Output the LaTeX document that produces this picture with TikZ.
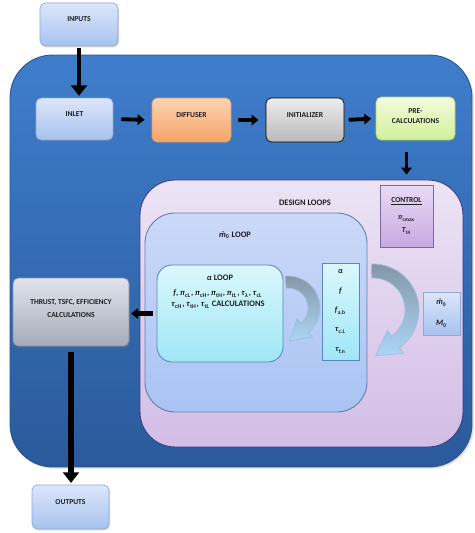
\documentclass[tikz,border=0pt]{standalone}
\usepackage{amsmath}
\usepackage{amssymb}
\usepackage{fontspec}
\setmainfont{Carlito}
\usepackage{tikz}
\usetikzlibrary{arrows.meta,positioning,calc,shapes,shadows}
\tikzset{>=Triangle}
\newcommand{\gsub}[2]{\textit{#1}\textsubscript{#2}}

\definecolor{txt}{HTML}{1E1E1E}
\definecolor{blueA}{HTML}{DCE6FB}
\definecolor{blueB}{HTML}{A7C2EE}
\definecolor{blueL}{HTML}{8EA9D8}
\definecolor{orangeA}{HTML}{FCD3B4}
\definecolor{orangeB}{HTML}{F5A466}
\definecolor{orangeL}{HTML}{E0A070}
\definecolor{greyA}{HTML}{EDEDED}
\definecolor{greyB}{HTML}{B9B9B9}
\definecolor{greenA}{HTML}{F4FCDD}
\definecolor{greenB}{HTML}{D0F09A}
\definecolor{greenL}{HTML}{B0D070}
\definecolor{thrustA}{HTML}{E1E4EC}
\definecolor{thrustB}{HTML}{A5ABBA}
\definecolor{thrustL}{HTML}{8A90A0}
\definecolor{engineA}{HTML}{3F7DCC}
\definecolor{engineB}{HTML}{2A5A9B}
\definecolor{engineL}{HTML}{2A5590}
\definecolor{designA}{HTML}{EDE3F5}
\definecolor{designB}{HTML}{D2BDE6}
\definecolor{designL}{HTML}{3F3F7F}
\definecolor{mloopA}{HTML}{CBD9F8}
\definecolor{mloopB}{HTML}{A9C3F3}
\definecolor{mloopL}{HTML}{5F7FB0}
\definecolor{aloopA}{HTML}{DAF8FC}
\definecolor{aloopB}{HTML}{9FE6F7}
\definecolor{aloopL}{HTML}{5A88B8}
\definecolor{ctrlA}{HTML}{E9DAF5}
\definecolor{ctrlB}{HTML}{C7A9E2}
\definecolor{ctrlL}{HTML}{7A6A98}
\definecolor{curveA}{HTML}{8496A6}
\definecolor{curveB}{HTML}{ABD6F6}
\definecolor{curveL}{HTML}{9EC0E0}

\tikzset{
  lbl/.style={font=\fontsize{4.3}{5.6}\selectfont\bfseries, text=txt},
  box/.style={lbl, draw, rounded corners=3pt, align=center, text depth=6pt, line width=0.4pt,
    drop shadow={shadow xshift=0.6pt, shadow yshift=-0.8pt, opacity=0.3}},
  bluebox/.style={box, draw=blueL, top color=blueA, bottom color=blueB},
  container/.style={draw, line width=0.5pt},
  blockarrow/.style={-{Triangle[length=6pt,width=9pt]}, line width=2.8pt, black},
  smallarrow/.style={-{Triangle[length=4pt,width=6pt]}, line width=2.2pt, black},
  curvedarrow/.style={draw=curveL, line width=0.4pt, top color=curveA, bottom color=curveB}
}

\begin{document}
\begin{tikzpicture}[x=0.02cm,y=-0.02cm]
\useasboundingbox (0,0) rectangle (474,533);

% engine block
\node [container, draw=engineL, top color=engineA, bottom color=engineB, rounded corners=0.85cm,
  minimum width=9.24cm, minimum height=8.24cm,
  drop shadow={shadow xshift=1pt, shadow yshift=-1pt, opacity=0.25}] (engine) at (241,261) {};

% top row
\node [bluebox, minimum width=1.56cm, minimum height=0.86cm] (inputs) at (79,24.5) {INPUTS};
\node [bluebox, minimum width=1.54cm, minimum height=0.84cm] (inlet) at (74.5,119) {INLET};
\node [box, draw=orangeL, top color=orangeA, bottom color=orangeB,
  minimum width=1.58cm, minimum height=0.88cm] (diffuser) at (191.5,120) {DIFFUSER};
\node [box, draw=black, top color=greyA, bottom color=greyB,
  minimum width=1.56cm, minimum height=0.88cm] (init) at (305,120) {INITIALIZER};
\node [box, draw=greenL, top color=greenA, bottom color=greenB, text depth=3pt,
  minimum width=1.58cm, minimum height=0.86cm] (precalc) at (415.5,118.5) {PRE-\\CALCULATIONS};

% design loops
\node [container, draw=designL, top color=designA, bottom color=designB, rounded corners=0.7cm,
  minimum width=6.46cm, minimum height=5.34cm] (design) at (301.5,313.5) {};
\node [container, draw=mloopL, top color=mloopA, bottom color=mloopB, rounded corners=0.6cm,
  minimum width=4.44cm, minimum height=3.98cm] (mloop) at (256,312.5) {};
\node [container, draw=aloopL, top color=aloopA, bottom color=aloopB, rounded corners=0.3cm,
  minimum width=2.52cm, minimum height=1.94cm] (aloop) at (220,313.5) {};
\node [lbl, font=\fontsize{4.8}{6}\selectfont\bfseries] (designtitle) at (305,203) {DESIGN LOOPS};
\node [lbl, font=\fontsize{4.8}{6}\selectfont\bfseries] (mtitle) at (235,235) {\gsub{ṁ}{0} LOOP};
\node [lbl, font=\fontsize{4.8}{6}\selectfont\bfseries] (atitle) at (220,278) {\textit{α} LOOP};
\node [lbl, align=center, font=\fontsize{4.8}{6.4}\selectfont\bfseries] (acalc) at (218,299)
  {\textit{f}, \gsub{π}{cL}, \gsub{π}{cH}, \gsub{π}{tH}, \gsub{π}{tL}, \gsub{τ}{λ}, \gsub{τ}{cL}\\
   \gsub{τ}{cH}, \gsub{τ}{tH}, \gsub{τ}{tL} CALCULATIONS};

\node [lbl, draw=aloopL, top color=aloopA, bottom color=aloopB, align=center,
  font=\fontsize{4.6}{11}\selectfont\bfseries, minimum width=0.74cm, minimum height=1.94cm] (params) at (340.5,311.5)
  {\textit{α}\\\textit{f}\\\gsub{f}{a.b}\\\gsub{τ}{c.L}\\\gsub{τ}{f.n}};
\node [lbl, draw=ctrlL, top color=ctrlA, bottom color=ctrlB, align=center,
  minimum width=1.06cm, minimum height=1.24cm] (control) at (406.5,216)
  {\underline{CONTROL}\\[4pt]\gsub{π}{cmax}\\[2pt]\gsub{T}{t4}};
\node [lbl, draw=blueL, top color=blueA, bottom color=blueB, align=center,
  font=\fontsize{4.6}{12}\selectfont\bfseries, minimum width=0.74cm, minimum height=0.86cm] (mzero) at (441.5,313.5)
  {\gsub{ṁ}{0}\\\gsub{M}{0}};

% curved arrows
\coordinate (c1) at (288,308);
\path [curvedarrow] ($(c1)+(-95:32)$) arc[start angle=-95, end angle=50, radius=32]
  -- ($(c1)+(50:38)$) -- ($(c1)+(50:26)+(140:20)$) -- ($(c1)+(50:14)$)
  -- ($(c1)+(50:20)$) arc[start angle=50, end angle=-95, radius=20] -- cycle;
\coordinate (c2) at (373,310);
\path [curvedarrow] ($(c2)+(-92:46)$) arc[start angle=-92, end angle=55, radius=46]
  -- ($(c2)+(55:53)$) -- ($(c2)+(55:39)+(145:24)$) -- ($(c2)+(55:25)$)
  -- ($(c2)+(55:32)$) arc[start angle=55, end angle=-92, radius=32] -- cycle;

% results
\node [box, draw=thrustL, top color=thrustA, bottom color=thrustB, text depth=4pt,
  minimum width=2.32cm, minimum height=1.36cm] (thrust) at (71,312) {THRUST, TSFC, EFFICIENCY\\[2pt]CALCULATIONS};
\node [bluebox, minimum width=1.54cm, minimum height=0.88cm] (outputs) at (70.5,507) {OUTPUTS};

\begin{scope}[shorten >= 1pt, shorten <= 1pt]
\draw [blockarrow] (inputs.south) -- (inputs.south |- inlet.north);
\draw [smallarrow, shorten <= 4.5pt, shorten >= 4pt] (inlet.east) -- (diffuser.west);
\draw [smallarrow, shorten <= 4pt, shorten >= 4pt] (diffuser.east) -- (init.west);
\draw [smallarrow, shorten <= 2.5pt, shorten >= 2.5pt] (init.east) -- (precalc.west);
\draw [smallarrow, shorten <= 6.8pt, shorten >= 5.7pt] (control.north |- precalc.south) -- (control.north);
\draw [smallarrow, line width=2.8pt, shorten <= 2.3pt] (aloop.west) -- (thrust.east |- aloop.west);
\draw [blockarrow, line width=3.8pt, shorten <= 3.4pt] (thrust.south) -- (thrust.south |- outputs.north);
\end{scope}

\end{tikzpicture}
\end{document}
